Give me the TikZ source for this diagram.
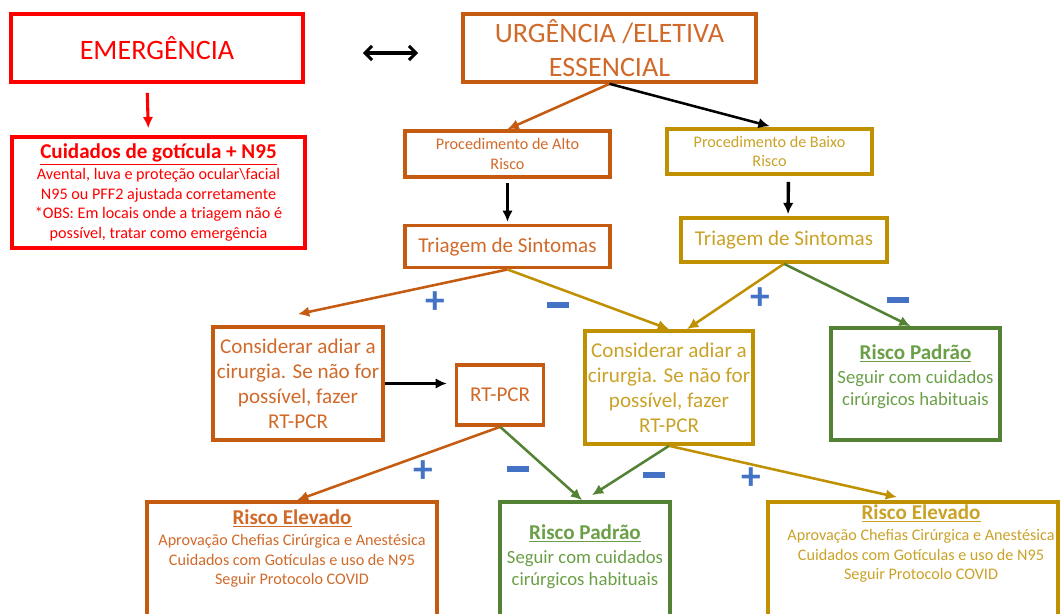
\documentclass[tikz,border=0pt]{standalone}
\usepackage{fontspec}
\setmainfont{Carlito}
\usepackage{tikz}
\definecolor{boxorange}{HTML}{C55A11}
\definecolor{textorange}{HTML}{D06A2A}
\definecolor{boxgold}{HTML}{BF9000}
\definecolor{textgold}{HTML}{C9A227}
\definecolor{boxgreen}{HTML}{548235}
\definecolor{textgreen}{HTML}{6A9F47}
\definecolor{signblue}{HTML}{4472C4}
\tikzstyle{block}=[draw, line width=2.6pt, inner sep=0pt, align=center]
\tikzstyle{boxtext}=[align=center, inner sep=0pt]
\tikzstyle{arrow}=[line width=1.8pt,->]
\tikzstyle{plussign}=[text=signblue, font=\bfseries\fontsize{28}{28}\selectfont, inner sep=0pt]
\tikzstyle{minussign}=[fill=signblue, minimum width=0.55cm, minimum height=0.15cm, inner sep=0pt]
\usetikzlibrary{arrows.meta,positioning}

\begin{document}
\begin{tikzpicture}[node distance=1cm,>={Latex[length=8pt,width=7.5pt]}]
\useasboundingbox (0,0) rectangle (26.5,-15.325);
\clip (0,0) rectangle (26.5,-15.325);
% top row
\node (emerg) [block,draw=red,text=red,minimum width=7.3cm,minimum height=1.7cm,font=\fontsize{20}{24}\selectfont] at (3.925,-1.2) {EMERGÊNCIA};
\node (urg) [block,draw=boxorange,text=textorange,minimum width=7.325cm,minimum height=1.7cm,font=\fontsize{20}{24}\selectfont] at (15.2375,-1.2) {URGÊNCIA /ELETIVA\\ESSENCIAL};
\node (cuid) [block,draw=red,text=red,minimum width=7.325cm,minimum height=2.775cm,font=\fontsize{11.5}{13.9}\selectfont] at (3.9625,-4.8125) {{\fontsize{15}{18}\selectfont\bfseries\underline{Cuidados de gotícula + N95}}\\[1pt]Avental, luva e proteção ocular\textbackslash facial\\N95 ou PFF2 ajustada corretamente\\*OBS: Em locais onde a triagem não é\\possível, tratar como emergência};
% procedimentos
\node (alto) [block,draw=boxorange,text=textorange,minimum width=5.125cm,minimum height=1.15cm,font=\fontsize{11.5}{14}\selectfont] at (12.6875,-3.85) {Procedimento de Alto\\Risco};
\node (baixo) [block,draw=boxgold,text=textgold,minimum width=5.125cm,minimum height=1.125cm,font=\fontsize{11.5}{14}\selectfont] at (19.2375,-3.7875) {Procedimento de Baixo\\Risco};
\node (triL) [below=1.125 of alto,block,draw=boxorange,text=textorange,minimum width=5.125cm,minimum height=1.05cm,font=\fontsize{15}{18}\selectfont] {Triagem de Sintomas};
\node (triR) [block,draw=boxgold,text=textgold,minimum width=5.15cm,minimum height=1.1cm,font=\fontsize{15}{18}\selectfont] at (19.6,-6.0) {Triagem de Sintomas};
% third row
\node (consL) [block,draw=boxorange,text=textorange,minimum width=4.25cm,minimum height=2.825cm,font=\fontsize{15}{17.8}\selectfont] at (7.45,-9.5875) {Considerar adiar a\\cirurgia. Se não for\\possível, fazer\\RT-PCR};
\node (rtpcr) [right=1.75 of consL,yshift=-0.2875cm,block,draw=boxorange,text=textorange,minimum width=2.175cm,minimum height=1.5cm,font=\fontsize{15}{18}\selectfont] {RT-PCR};
\node (consR) [block,draw=boxgold,text=textgold,minimum width=4.2cm,minimum height=2.825cm,font=\fontsize{15}{17.8}\selectfont] at (16.725,-9.6875) {Considerar adiar a\\cirurgia. Se não for\\possível, fazer\\RT-PCR};
\node (padR) [block,draw=boxgreen,minimum width=4.225cm,minimum height=2.8cm] at (22.8875,-9.6) {};
\node (padRtxt) [below=0.45 of padR.north,boxtext,text=textgreen,font=\fontsize{13.3}{16}\selectfont] {{\fontsize{15}{18}\selectfont\bfseries\underline{Risco Padrão}}\\[1pt]Seguir com cuidados\\cirúrgicos habituais};
% bottom row
\node (eleL) [block,draw=boxorange,minimum width=7.25cm,minimum height=3.45cm] at (7.3,-14.275) {};
\node (eleLtxt) [below=0.225 of eleL.north,boxtext,text=textorange,font=\fontsize{11.5}{14}\selectfont] {{\fontsize{15}{18}\selectfont\bfseries\underline{Risco Elevado}}\\[1pt]Aprovação Chefias Cirúrgica e Anestésica\\Cuidados com Gotículas e uso de N95\\Seguir Protocolo COVID};
\node (padM) [block,draw=boxgreen,minimum width=4.25cm,minimum height=3.45cm] at (14.625,-14.275) {};
\node (padMtxt) [below=0.6 of padM.north,boxtext,text=textgreen,font=\fontsize{13.3}{16}\selectfont] {{\fontsize{15}{18}\selectfont\bfseries\underline{Risco Padrão}}\\[1pt]Seguir com cuidados\\cirúrgicos habituais};
\node (eleR) [block,draw=boxgold,minimum width=7.25cm,minimum height=3.45cm] at (22.825,-14.275) {};
\node (eleRtxt) [below=0.1 of eleR.north,xshift=0.2cm,boxtext,text=textgold,font=\fontsize{11.5}{14}\selectfont] {{\fontsize{15}{18}\selectfont\bfseries\underline{Risco Elevado}}\\[1pt]Aprovação Chefias Cirúrgica e Anestésica\\Cuidados com Gotículas e uso de N95\\Seguir Protocolo COVID};
% signs
\node (p1) [plussign] at (10.875,-7.575) {+};
\node (m1) [minussign] at (13.95,-7.625) {};
\node (p2) [plussign] at (19.0,-7.475) {+};
\node (m2) [minussign] at (22.45,-7.5) {};
\node (p3) [plussign] at (10.575,-11.8) {+};
\node (m3) [minussign] at (12.95,-11.725) {};
\node (m4) [minussign] at (16.35,-11.875) {};
\node (p4) [plussign] at (18.775,-11.975) {+};
% connectors
\draw[line width=2.2pt,{Straight Barb[length=5pt,width=10pt]}-{Straight Barb[length=5pt,width=10pt]},shorten <=1.45cm,shorten >=1.075cm] ([yshift=-0.125cm]emerg.east) -- ([yshift=-0.125cm]urg.west);
\draw[arrow,red,line width=2.2pt,shorten <=0.225cm,shorten >=0.175cm] ([xshift=-0.25cm]emerg.south) -- ([xshift=-0.25cm]cuid.north);
\draw[arrow,boxorange] (urg.south) -- (alto.north);
\draw[arrow,shorten >=0.1cm] (urg.south) -- ([xshift=0.1cm]baixo.north);
\draw[arrow,line width=2.4pt,shorten <=0.1cm,shorten >=0.05cm] (alto) -- (triL);
\draw[arrow,line width=2.4pt,shorten <=0.15cm,shorten >=0.05cm] ([xshift=0.475cm]baixo.south) -- ([xshift=0.1cm]triR.north);
\draw[arrow,boxorange] (triL.south) -- ([yshift=0.275cm]consL.north);
\draw[arrow,boxgold] (triL.south) -- (consR.north);
\draw[arrow,boxgold] (triR.south) -- ([xshift=0.45cm]consR.north);
\draw[arrow,boxgreen] (triR.south) -- ([xshift=-0.125cm]padR.north);
\draw[arrow,line width=2pt,shorten >=0.2cm] (consL.east) -- (consL.east -| rtpcr.west);
\draw[arrow,boxorange] (rtpcr.south) -- ([xshift=0.125cm]eleL.north);
\draw[arrow,boxgreen] (rtpcr.south) -- ([xshift=-0.075cm]padM.north);
\draw[arrow,boxgreen] (consR.south) -- ([xshift=0.175cm,yshift=0.125cm]padM.north);
\draw[arrow,boxgold] (consR.south) -- ([xshift=-0.4cm,yshift=0.075cm]eleR.north);
\end{tikzpicture}
\end{document}
